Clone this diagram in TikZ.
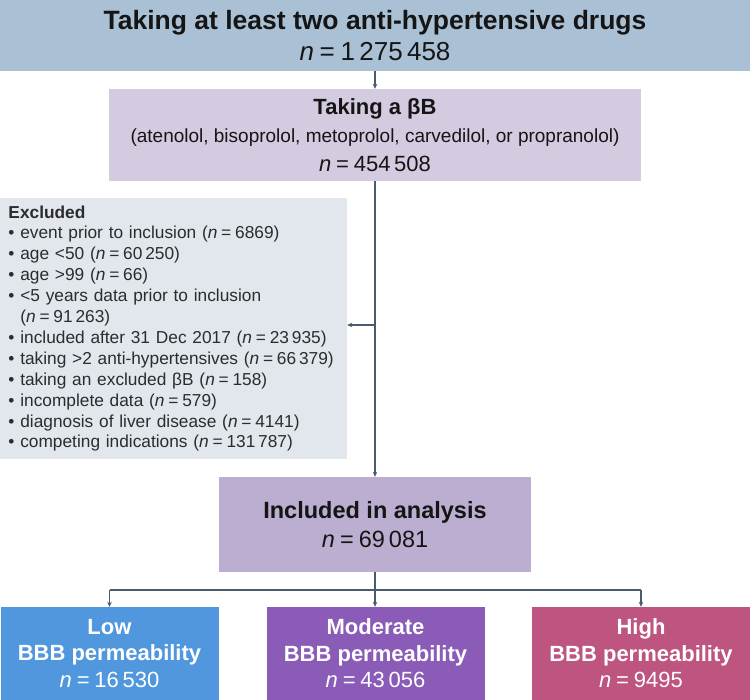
\documentclass[tikz,border=0pt]{standalone}
\usepackage{fontspec}
\setmainfont{Liberation Sans}
\usetikzlibrary{arrows.meta,calc}
\definecolor{topc}{HTML}{AAC1D5}
\definecolor{bbc}{HTML}{D4CBE0}
\definecolor{exc}{HTML}{E1E7ED}
\definecolor{inc}{HTML}{BBAED1}
\definecolor{lowc}{HTML}{5097DD}
\definecolor{modc}{HTML}{8A5BB7}
\definecolor{highc}{HTML}{BE5480}
\definecolor{linec}{HTML}{4B5B6B}
\definecolor{txt}{HTML}{151515}
\newcommand{\nval}[1]{\textit{n}\hspace{0.22em}=\hspace{0.22em}#1}
\tikzset{
  box/.style={rectangle, inner sep=0pt, align=center, text=txt},
  grp/.style={box, minimum width=218pt, minimum height=93pt, text=white,
    font=\fontsize{22}{26.5}\selectfont},
  conn/.style={draw=linec, line width=1.4pt, -{Stealth[length=5pt,width=4.5pt]}},
  seg/.style={draw=linec, line width=1.4pt},
}
\begin{document}
\begin{tikzpicture}[x=1pt,y=-1pt]
\useasboundingbox (0,0) rectangle (750,700);
\fill[white] (0,0) rectangle (750,700);

\node[box, fill=topc, minimum width=750pt, minimum height=71pt,
  font=\fontsize{26}{31}\selectfont] (top) at (375,35.5)
  {{\fontsize{26.5}{31}\selectfont\bfseries Taking at least two anti-hypertensive drugs}\\
   \nval{1\,275\,458}};

\node[box, fill=bbc, minimum width=532pt, minimum height=92pt,
  font=\fontsize{19}{28.5}\selectfont] (bb) at (375,135)
  {{\fontsize{22}{28.5}\selectfont\bfseries Taking a βB}\\
   (atenolol, bisoprolol, metoprolol, carvedilol, or propranolol)\\
   {\fontsize{22}{28.5}\selectfont\nval{454\,508}}};

\node[box, fill=exc, minimum width=347pt, minimum height=261pt, align=left,
  text width=330pt, font=\fontsize{17.3}{20.9}\selectfont,
  text=txt!90!white] (excl) at (173.5,328.5)
  {\textbf{Excluded}\\
   • event prior to inclusion (\nval{6869})\\
   • age <50 (\nval{60\,250})\\
   • age >99 (\nval{66})\\
   • <5 years data prior to inclusion\\
   \phantom{•} (\nval{91\,263})\\
   • included after 31 Dec 2017 (\nval{23\,935})\\
   • taking >2 anti-hypertensives (\nval{66\,379})\\
   • taking an excluded βB (\nval{158})\\
   • incomplete data (\nval{579})\\
   • diagnosis of liver disease (\nval{4141})\\
   • competing indications (\nval{131\,787})};

\node[box, fill=inc, minimum width=312pt, minimum height=95pt,
  font=\fontsize{23.5}{29}\selectfont] (incl) at (375,524.5)
  {\textbf{Included in analysis}\\ \nval{69\,081}};

\node[grp, fill=lowc] (low) at (109.5,653.5)
  {\textbf{Low}\\ \textbf{BBB permeability}\\ \nval{16\,530}};
\node[grp, fill=modc] (mod) at (375.5,653.5)
  {\textbf{Moderate}\\ \textbf{BBB permeability}\\ \nval{43\,056}};
\node[grp, fill=highc] (high) at (641,653.5)
  {\textbf{High}\\ \textbf{BBB permeability}\\ \nval{9495}};

\coordinate (br) at (375,325);
\coordinate (split) at (375,590);

\draw[conn] (top.south) -- (top.south |- bb.north);
\draw[conn] (bb.south -| top.south) -- (top.south |- incl.north);
\draw[conn] (br) -- (br -| excl.east);
\draw[seg] (incl.south -| top.south) -- (split);
\draw[seg] (split -| low.north) -- (split -| high.north);
\draw[conn] (split -| low.north) -- (low.north);
\draw[conn] (split) -- (split |- mod.north);
\draw[conn] (split -| high.north) -- (high.north);
\end{tikzpicture}
\end{document}
